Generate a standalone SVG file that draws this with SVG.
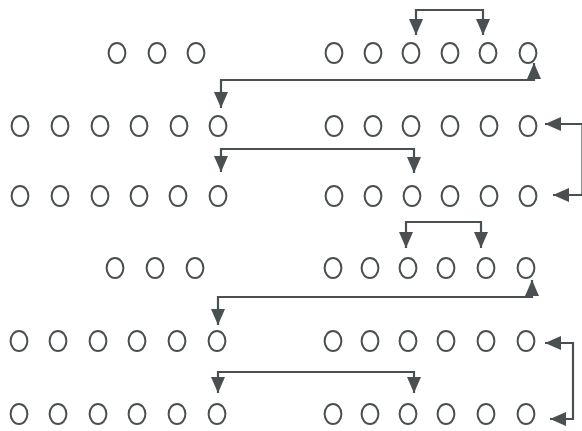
<svg xmlns="http://www.w3.org/2000/svg" xmlns:xlink="http://www.w3.org/1999/xlink" width="582" height="431" viewBox="0 0 582 431">
<style>
.n{fill:none;stroke:#4a4f50;stroke-width:2}
.c{fill:none;stroke:#4a4f51;stroke-width:2.2;marker-start:url(#ah);marker-end:url(#ah)}
</style>
<defs>
<marker id="ah" markerUnits="userSpaceOnUse" markerWidth="17" markerHeight="14" viewBox="0 0 17 14" refX="16" refY="7" orient="auto-start-reverse">
<path d="M0,0 L16,7 L0,14 z" fill="#4a4f51"/>
</marker>
<ellipse id="o" rx="8.4" ry="10" class="n"/>
</defs>
<rect width="582" height="431" fill="#ffffff"/>
<g id="row1">
<g id="r1a"><use xlink:href="#o" x="117" y="53"/></g>
<g id="r1b"><use xlink:href="#o" x="157" y="53"/></g>
<g id="r1c"><use xlink:href="#o" x="196" y="53"/></g>
<g id="r1d"><use xlink:href="#o" x="334" y="53"/></g>
<g id="r1e"><use xlink:href="#o" x="373" y="53"/></g>
<g id="r1f"><use xlink:href="#o" x="411" y="53"/></g>
<g id="r1g"><use xlink:href="#o" x="450" y="53"/></g>
<g id="r1h"><use xlink:href="#o" x="488" y="53"/></g>
<g id="r1i"><use xlink:href="#o" x="528" y="53"/></g>
</g>
<g id="row2">
<g id="r2a"><use xlink:href="#o" x="20" y="126"/></g>
<g id="r2b"><use xlink:href="#o" x="60" y="126"/></g>
<g id="r2c"><use xlink:href="#o" x="100" y="126"/></g>
<g id="r2d"><use xlink:href="#o" x="139" y="126"/></g>
<g id="r2e"><use xlink:href="#o" x="179" y="126"/></g>
<g id="r2f"><use xlink:href="#o" x="218" y="126"/></g>
<g id="r2g"><use xlink:href="#o" x="334" y="126"/></g>
<g id="r2h"><use xlink:href="#o" x="373" y="126"/></g>
<g id="r2i"><use xlink:href="#o" x="411" y="126"/></g>
<g id="r2j"><use xlink:href="#o" x="450" y="126"/></g>
<g id="r2k"><use xlink:href="#o" x="489" y="126"/></g>
<g id="r2l"><use xlink:href="#o" x="528" y="126"/></g>
</g>
<g id="row3">
<g id="r3a"><use xlink:href="#o" x="20" y="196"/></g>
<g id="r3b"><use xlink:href="#o" x="60" y="196"/></g>
<g id="r3c"><use xlink:href="#o" x="100" y="196"/></g>
<g id="r3d"><use xlink:href="#o" x="139" y="196"/></g>
<g id="r3e"><use xlink:href="#o" x="178" y="196"/></g>
<g id="r3f"><use xlink:href="#o" x="218" y="196"/></g>
<g id="r3g"><use xlink:href="#o" x="334" y="196"/></g>
<g id="r3h"><use xlink:href="#o" x="373" y="196"/></g>
<g id="r3i"><use xlink:href="#o" x="412" y="196"/></g>
<g id="r3j"><use xlink:href="#o" x="450" y="196"/></g>
<g id="r3k"><use xlink:href="#o" x="489" y="196"/></g>
<g id="r3l"><use xlink:href="#o" x="528" y="196"/></g>
</g>
<g id="row4">
<g id="r4a"><use xlink:href="#o" x="115" y="268"/></g>
<g id="r4b"><use xlink:href="#o" x="155" y="268"/></g>
<g id="r4c"><use xlink:href="#o" x="195" y="268"/></g>
<g id="r4d"><use xlink:href="#o" x="333" y="268"/></g>
<g id="r4e"><use xlink:href="#o" x="370" y="268"/></g>
<g id="r4f"><use xlink:href="#o" x="408" y="268"/></g>
<g id="r4g"><use xlink:href="#o" x="446" y="268"/></g>
<g id="r4h"><use xlink:href="#o" x="486" y="268"/></g>
<g id="r4i"><use xlink:href="#o" x="526" y="268"/></g>
</g>
<g id="row5">
<g id="r5a"><use xlink:href="#o" x="19" y="341"/></g>
<g id="r5b"><use xlink:href="#o" x="58" y="341"/></g>
<g id="r5c"><use xlink:href="#o" x="98" y="341"/></g>
<g id="r5d"><use xlink:href="#o" x="137" y="341"/></g>
<g id="r5e"><use xlink:href="#o" x="177" y="341"/></g>
<g id="r5f"><use xlink:href="#o" x="217" y="341"/></g>
<g id="r5g"><use xlink:href="#o" x="333" y="341"/></g>
<g id="r5h"><use xlink:href="#o" x="370" y="341"/></g>
<g id="r5i"><use xlink:href="#o" x="408" y="341"/></g>
<g id="r5j"><use xlink:href="#o" x="446" y="341"/></g>
<g id="r5k"><use xlink:href="#o" x="486" y="341"/></g>
<g id="r5l"><use xlink:href="#o" x="526" y="341"/></g>
</g>
<g id="row6">
<g id="r6a"><use xlink:href="#o" x="19" y="414"/></g>
<g id="r6b"><use xlink:href="#o" x="58" y="414"/></g>
<g id="r6c"><use xlink:href="#o" x="98" y="414"/></g>
<g id="r6d"><use xlink:href="#o" x="137" y="414"/></g>
<g id="r6e"><use xlink:href="#o" x="177" y="414"/></g>
<g id="r6f"><use xlink:href="#o" x="217" y="414"/></g>
<g id="r6g"><use xlink:href="#o" x="333" y="414"/></g>
<g id="r6h"><use xlink:href="#o" x="370" y="414"/></g>
<g id="r6i"><use xlink:href="#o" x="408" y="414"/></g>
<g id="r6j"><use xlink:href="#o" x="446" y="414"/></g>
<g id="r6k"><use xlink:href="#o" x="486" y="414"/></g>
<g id="r6l"><use xlink:href="#o" x="526" y="414"/></g>
</g>
<g id="connectors">
<path class="c" d="M416,35 V10 H483 V35"/>
<path class="c" d="M534,63 V80 H221 V108"/>
<path class="c" d="M221,172 V149 H414 V173"/>
<path class="c" d="M545,124 H582.5 V195 H553"/>
<path class="c" d="M406,248 V222 H481 V248"/>
<path class="c" d="M532,280 V297 H218 V325"/>
<path class="c" d="M218,393 V372 H414 V393"/>
<path class="c" d="M545,343 H573 V419 H550"/>
</g>
</svg>
